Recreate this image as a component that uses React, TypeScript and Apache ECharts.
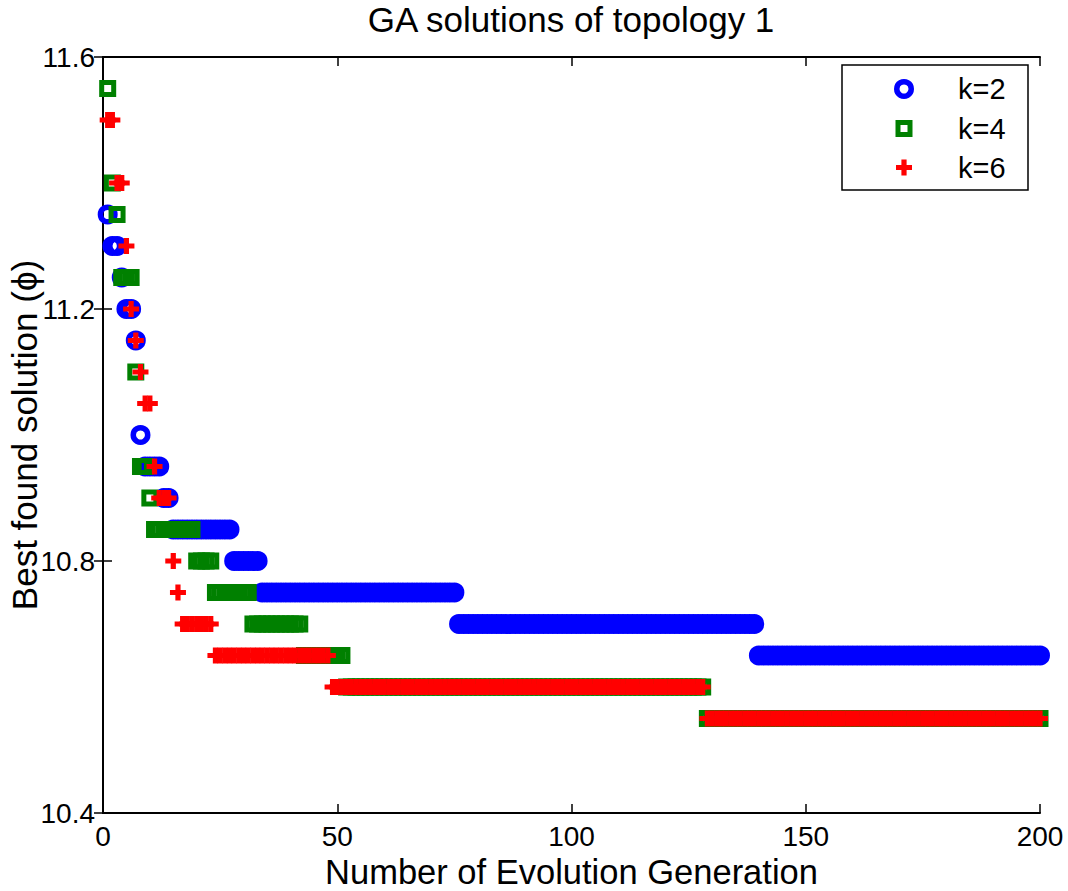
import React, { useEffect, useRef } from "react";
import * as echarts from "echarts";

// Runs of generations [firstGen, lastGen, bestValue]
const k2Runs: [number, number, number][] = [
  [1, 1, 11.35], [2, 3, 11.3], [4, 4, 11.25], [5, 6, 11.2], [7, 7, 11.15],
  [8, 8, 11.0], [9, 12, 10.95], [13, 14, 10.9], [15, 27, 10.85], [28, 33, 10.8],
  [34, 75, 10.75], [76, 139, 10.7], [140, 200, 10.65],
];
const k4Runs: [number, number, number][] = [
  [1, 1, 11.55], [2, 2, 11.4], [3, 3, 11.35], [4, 6, 11.25], [7, 7, 11.1],
  [8, 9, 10.95], [10, 10, 10.9], [11, 19, 10.85], [20, 23, 10.8], [24, 31, 10.75],
  [32, 42, 10.7], [43, 51, 10.65], [52, 128, 10.6], [129, 200, 10.55],
];
const k6Runs: [number, number, number][] = [
  [1, 2, 11.5], [3, 4, 11.4], [5, 5, 11.3], [6, 6, 11.2], [7, 7, 11.15],
  [8, 8, 11.1], [9, 10, 11.05], [11, 11, 10.95], [12, 14, 10.9], [15, 15, 10.8],
  [16, 16, 10.75], [17, 23, 10.7], [24, 48, 10.65], [49, 128, 10.6], [129, 200, 10.55],
];
const seriesNames = ["k=2", "k=4", "k=6"];
const xTickValues = [0, 50, 100, 150, 200];
const yTickValues = [10.4, 10.8, 11.2, 11.6];

function expandRuns(runs: [number, number, number][]) {
  const pts: [number, number][] = [];
  runs.forEach(([a, b, v]) => {
    for (let g = a; g <= b; g++) pts.push([g, v]);
  });
  return pts;
}

const FONT = "Liberation Sans, Arial, Helvetica, sans-serif";
const PLUS = "path://M5.4,0H10.6V5.4H16V10.6H10.6V16H5.4V10.6H0V5.4H5.4Z";

function plusPoints(cx: number, cy: number, h: number, t: number) {
  return [
    [cx - t, cy - h], [cx + t, cy - h], [cx + t, cy - t], [cx + h, cy - t],
    [cx + h, cy + t], [cx + t, cy + t], [cx + t, cy + h], [cx - t, cy + h],
    [cx - t, cy + t], [cx - h, cy + t], [cx - h, cy - t], [cx - t, cy - t],
  ];
}

export default function App() {
  const ref = useRef<HTMLDivElement>(null);
  useEffect(() => {
    if (!ref.current) return;
    const chart = echarts.init(ref.current, undefined, { renderer: "svg" });
    const axisLine = { show: true, lineStyle: { color: "#000", width: 2 } };
    const tick = { show: true, inside: true, length: 9, lineStyle: { color: "#000", width: 1.5 } };
    const legendX = 904;
    const rows = [89, 128.5, 167.5];
    chart.setOption({
      animation: false,
      backgroundColor: "#fff",
      title: {
        text: "GA solutions of topology 1",
        left: 571,
        top: 2,
        padding: 0,
        textAlign: "center",
        textStyle: { fontFamily: FONT, fontSize: 35, fontWeight: "normal", color: "#000" },
      },
      grid: { left: 103, right: 28, top: 57, bottom: 78, containLabel: false, outerBoundsMode: "none" },
      xAxis: [
        {
          type: "value", min: 0, max: 200, interval: 50, position: "bottom",
          name: "Number of Evolution Generation", nameLocation: "middle", nameGap: 42.8,
          nameMoveOverlap: false,
          nameTextStyle: { fontFamily: FONT, fontSize: 34.5, lineHeight: 32, color: "#000" },
          axisLine, axisTick: tick, splitLine: { show: false },
          axisLabel: { fontFamily: FONT, fontSize: 28, lineHeight: 28, color: "#000", margin: 9.5,
            formatter: (v: number) => (xTickValues.includes(v) ? String(v) : "") },
        },
        {
          type: "value", min: 0, max: 200, interval: 50, position: "top",
          axisLine, axisTick: tick, splitLine: { show: false }, axisLabel: { show: false },
        },
      ],
      yAxis: [
        {
          type: "value", min: 10.4, max: 11.6, interval: 0.4, position: "left",
          name: "Best found solution (ϕ)", nameLocation: "middle", nameGap: 61,
          nameMoveOverlap: false,
          nameTextStyle: { fontFamily: FONT, fontSize: 35, lineHeight: 36, color: "#000" },
          axisLine, axisTick: tick, splitLine: { show: false },
          axisLabel: { fontFamily: FONT, fontSize: 28, lineHeight: 28, color: "#000", margin: 8,
            formatter: (v: number) => {
              const hit = yTickValues.find((t) => Math.abs(t - v) < 1e-6);
              return hit !== undefined ? hit.toFixed(1) : "";
            } },
        },
        {
          type: "value", min: 10.4, max: 11.6, interval: 0.4, position: "right",
          axisLine, axisTick: tick, splitLine: { show: false }, axisLabel: { show: false },
        },
      ],
      series: [
        {
          name: seriesNames[0], type: "scatter", data: expandRuns(k2Runs),
          symbol: "circle", symbolSize: 14.5,
          itemStyle: { color: "rgba(0,0,0,0)", borderColor: "#0000ff", borderWidth: 5.5, opacity: 1 },
        },
        {
          name: seriesNames[1], type: "scatter", data: expandRuns(k4Runs),
          symbol: "rect", symbolSize: 12,
          itemStyle: { color: "rgba(0,0,0,0)", borderColor: "#008000", borderWidth: 5, opacity: 1 },
        },
        {
          name: seriesNames[2], type: "scatter", data: expandRuns(k6Runs),
          symbol: PLUS, symbolSize: 16,
          itemStyle: { color: "#ff0000", borderWidth: 0, opacity: 1 },
        },
      ],
      graphic: [
        {
          type: "rect", shape: { x: 842, y: 65, width: 186, height: 125 },
          style: { fill: "#fff", stroke: "#000", lineWidth: 1.5 }, z: 10,
        },
        {
          type: "circle", shape: { cx: legendX, cy: rows[0], r: 7.25 },
          style: { fill: "none", stroke: "#0000ff", lineWidth: 5.5 }, z: 11,
        },
        {
          type: "rect", shape: { x: legendX - 6, y: rows[1] - 6, width: 12, height: 12 },
          style: { fill: "none", stroke: "#008000", lineWidth: 5 }, z: 11,
        },
        {
          type: "polygon", shape: { points: plusPoints(legendX, rows[2], 8, 2.6) },
          style: { fill: "#ff0000" }, z: 11,
        },
        ...seriesNames.map((n, i) => ({
          type: "text", x: 958, y: rows[i], z: 11,
          style: { text: n, fontFamily: FONT, fontSize: 29, fill: "#000", verticalAlign: "middle", align: "left" },
        })),
      ],
    });
    return () => chart.dispose();
  }, []);
  return (
    <div
      ref={ref}
      style={{ position: "fixed", left: 0, top: 0, width: 1068, height: 891, background: "#fff" }}
    />
  );
}
